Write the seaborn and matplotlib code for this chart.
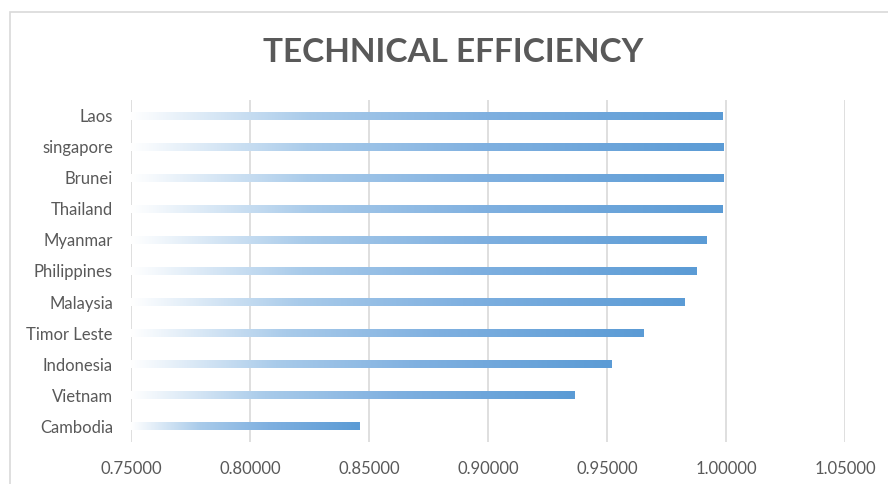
import matplotlib
matplotlib.use("Agg")
import matplotlib.pyplot as plt
import seaborn as sns
import numpy as np
import pandas as pd
from matplotlib.colors import LinearSegmentedColormap
from matplotlib.patches import Rectangle

countries = ['Laos', 'singapore', 'Brunei', 'Thailand', 'Myanmar', 'Philippines',
             'Malaysia', 'Timor Leste', 'Indonesia', 'Vietnam', 'Cambodia']
efficiency = [0.9987, 0.9988, 0.9988, 0.9985, 0.9920, 0.9874,
              0.9827, 0.9654, 0.9519, 0.9363, 0.8461]
x_ticks = [0.75, 0.80, 0.85, 0.90, 0.95, 1.00, 1.05]
x_min = 0.75

df = pd.DataFrame({'country': countries, 'te': efficiency})

sns.set_style("white")
plt.rcParams['font.family'] = ['Lato', 'DejaVu Sans']
grey = '#595959'

fig = plt.figure(figsize=(8.88, 4.84), dpi=100)
ax = fig.add_axes([131 / 888, 42 / 484, 714 / 888, 342 / 484])

sns.barplot(data=df, x='te', y='country', orient='h', width=0.26,
            color='#5B9BD5', ax=ax)

ax.set_xlim(x_min, 1.05)
ax.set_xticks(x_ticks)
ax.set_xticklabels([f'{t:.5f}' for t in x_ticks])
ax.xaxis.grid(True, color='#D9D9D9', linewidth=1.2)
ax.set_axisbelow(True)
for s in ax.spines.values():
    s.set_visible(False)
ax.tick_params(axis='x', length=0, pad=14, labelsize=12, labelcolor=grey)
ax.tick_params(axis='y', length=0, pad=13, labelsize=12, labelcolor=grey)
ax.set_xlabel('')
ax.set_ylabel('')

# bars start at the axis minimum, gradient fill white -> blue per bar
cmap = LinearSegmentedColormap.from_list(
    'te', [(0, '#FFFFFF'), (0.3, '#A9CBEA'), (0.6, '#7FB0E0'), (1, '#5B9BD5')])
grad = np.linspace(0, 1, 256).reshape(1, -1)
for p in ax.patches:
    end = p.get_x() + p.get_width()
    p.set_x(x_min)
    p.set_width(end - x_min)
    x0, y0 = p.get_x(), p.get_y()
    w, h = p.get_width(), p.get_height()
    im = ax.imshow(grad, cmap=cmap, aspect='auto', interpolation='bicubic',
                   extent=[x0, x0 + w, y0 + h, y0], zorder=2)
    im.set_clip_path(p)
    p.set_facecolor('none')
    p.set_edgecolor('none')
ax.set_xlim(x_min, 1.05)
ax.set_ylim(10.5, -0.5)

fig.text(453 / 888, 1 - 52 / 484, 'TECHNICAL EFFICIENCY', ha='center', va='center',
         fontsize=24, fontweight='bold', color=grey)

fig.add_artist(Rectangle((10 / 888, -0.1), 1.2, 1 - 12 / 484 + 0.1,
                         transform=fig.transFigure, fill=False,
                         edgecolor='#D9D9D9', linewidth=1.2))

fig.savefig('out.png', dpi=100)
